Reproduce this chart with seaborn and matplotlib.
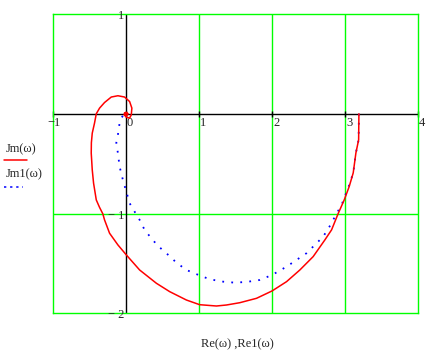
import matplotlib
matplotlib.use("Agg")
import matplotlib.pyplot as plt
import seaborn as sns
from matplotlib.lines import Line2D

# ---- data (Nyquist curves) ----
jm_re = [3.185, 3.181, 3.144, 3.107, 3.052, 2.984, 2.901, 2.811, 2.719, 2.559,
         2.377, 2.195, 1.997, 1.784, 1.555, 1.373, 1.236, 1.007, 0.825, 0.596,
         0.414, 0.185, 0.003, -0.112, -0.226, -0.295, -0.318, -0.365, -0.408, -0.445,
         -0.463, -0.477, -0.475, -0.463, -0.432, -0.408, -0.363, -0.295, -0.203, -0.112,
         -0.021, 0.048, 0.079, 0.071, 0.048, 0.007, -0.027, -0.021, 0.007, 0.027,
         0.007, -0.014, 0.0]
jm_im = [0.0, -0.261, -0.391, -0.592, -0.729, -0.863, -1.0, -1.163, -1.264, -1.431,
         -1.565, -1.682, -1.775, -1.849, -1.893, -1.916, -1.926, -1.913, -1.866, -1.782,
         -1.698, -1.565, -1.414, -1.314, -1.197, -1.063, -1.003, -0.935, -0.863, -0.695,
         -0.562, -0.394, -0.290, -0.194, -0.093, 0.0, 0.057, 0.113, 0.168, 0.181,
         0.168, 0.123, 0.057, -0.010, -0.043, -0.035, -0.010, 0.010, 0.015, 0.0,
         -0.020, -0.010, 0.0]

jm1_re = [3.185, 3.181, 3.144, 3.107, 3.048, 2.948, 2.877, 2.797, 2.696, 2.582,
          2.468, 2.332, 2.195, 1.997, 1.829, 1.647, 1.486, 1.326, 1.144, 1.007,
          0.825, 0.688, 0.551, 0.436, 0.345, 0.253, 0.185, 0.116, 0.048, 0.003,
          -0.044, -0.089, -0.112, -0.134, -0.112, -0.089, -0.066, -0.034, 0.0]
jm1_im = [0.0, -0.261, -0.391, -0.592, -0.722, -0.913, -1.003, -1.113, -1.231, -1.314,
          -1.397, -1.464, -1.532, -1.615, -1.665, -1.685, -1.692, -1.682, -1.658, -1.620,
          -1.565, -1.491, -1.397, -1.324, -1.247, -1.163, -1.063, -0.980, -0.896, -0.779,
          -0.662, -0.529, -0.394, -0.290, -0.211, -0.093, -0.043, -0.010, 0.0]

x_ticks = [-1, 0, 1, 2, 3, 4]
x_tick_labels = ["\u22121", "0", "1", "2", "3", "4"]
y_ticks = [-2, -1, 0, 1]
y_tick_labels = ["\u2212 2", "\u2212 1", "", "1"]
legend_labels = ["Jm(\u03c9)", "Jm1(\u03c9)"]
x_label = "Re(\u03c9) ,Re1(\u03c9)"

sns.set_style("white")
plt.rcParams["font.family"] = ["Liberation Serif", "DejaVu Serif"]

GREEN = "#00ff00"
fig = plt.figure(figsize=(4.33, 3.52), dpi=100)
ax = fig.add_axes([0.1224, 0.1097, 0.8441, 0.8505])
ax.set_xlim(-1, 4)
ax.set_ylim(-2, 1)

for s in ax.spines.values():
    s.set_color(GREEN)
    s.set_linewidth(1.0)
ax.set_xticks([])
ax.set_yticks([])

for xv in x_ticks[1:-1]:
    if xv != 0:
        ax.axvline(xv, color=GREEN, lw=1.0, zorder=1)
for yv in y_ticks[1:-1]:
    if yv != 0:
        ax.axhline(yv, color=GREEN, lw=1.0, zorder=1)
ax.axhline(0, color="black", lw=1.0, zorder=2)
ax.axvline(0, color="black", lw=1.0, zorder=2)
ax.vlines(x_ticks, -0.03, 0.03, color="black", lw=1.0, zorder=2, clip_on=False)

sns.lineplot(x=jm_re, y=jm_im, sort=False, estimator=None, ax=ax,
             color="#ff0000", lw=1.1, zorder=4)
sns.lineplot(x=jm1_re, y=jm1_im, sort=False, estimator=None, ax=ax,
             color="#0000ff", lw=1.3, linestyle=(0, (1, 4)), zorder=3)

fs = 9
for xv, lab in zip(x_ticks, x_tick_labels):
    if xv == -1:
        ax.text(xv + 0.02, -0.03, lab, ha="center", va="top", fontsize=fs)
    else:
        ax.text(xv + 0.01, -0.03, lab, ha="left", va="top", fontsize=fs)
for yv, lab in zip(y_ticks, y_tick_labels):
    if lab:
        ax.text(-0.03, yv - 0.02, lab, ha="right", va="center", fontsize=fs)

# legend-like labels on the left
fig.text(6 / 433, 1 - 149 / 352, legend_labels[0], ha="left", va="center", fontsize=fs)
fig.add_artist(Line2D([4 / 433, 27 / 433], [1 - 159.5 / 352] * 2, color="#ff0000", lw=1.1))
fig.text(6 / 433, 1 - 174 / 352, legend_labels[1], ha="left", va="center", fontsize=fs)
fig.add_artist(Line2D([4 / 433, 23 / 433], [1 - 186.7 / 352] * 2, color="#0000ff", lw=1.1,
                      linestyle=(0, (1.5, 2.5))))

fig.text(237 / 433, 1 - 344 / 352, x_label, ha="center", va="center", fontsize=fs)

fig.savefig("out.png", dpi=100)
